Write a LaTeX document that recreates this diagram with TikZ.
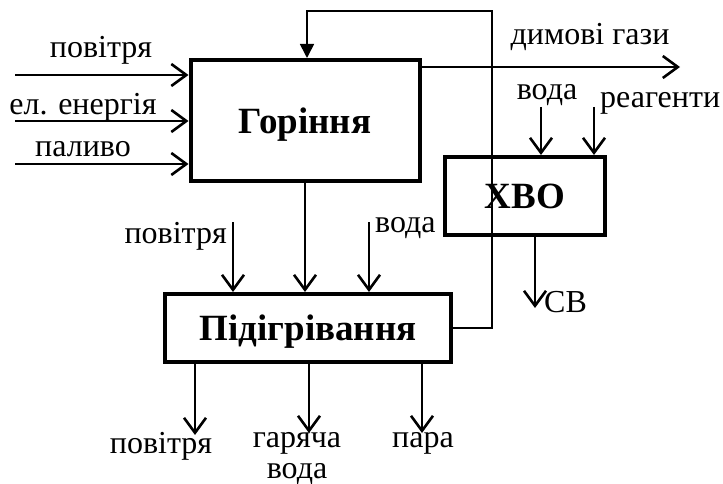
\documentclass[tikz,border=0pt]{standalone}
\usepackage{fontspec}
\setmainfont{Liberation Serif}
\usetikzlibrary{arrows.meta,shadows}

\begin{document}
\begin{tikzpicture}[x=1pt, y=-1pt,
    block/.style={draw, line width=4pt, fill=white, inner sep=0pt, text depth=0pt,
        font=\fontsize{37}{40}\selectfont\bfseries,
        drop shadow={opacity=.25, shadow xshift=2pt, shadow yshift=-2pt}},
    lbl/.style={font=\fontsize{32}{34}\selectfont, inner sep=0pt},
    flow/.style={line width=2.6pt, -{Straight Barb[length=15pt, width=22pt]}},
    backline/.style={line width=1.6pt, -{Triangle[length=14pt, width=14pt]}}]
    \useasboundingbox (0,0) rectangle (723,484);

    % blocks
    \node[block, minimum width=229pt, minimum height=121pt] (gorinnia) at (305,120.5) {Горіння};
    \node[block, minimum width=286pt, minimum height=68pt] (pidigriv) at (308,328) {Підігрівання};
    \node[block, minimum width=160pt, minimum height=78pt] (xvo) at (525,196) {ХВО};

    % free ends
    \coordinate (inAir) at (15,75);
    \coordinate (inPower) at (15,121);
    \coordinate (inFuel) at (15,164);
    \coordinate (flueGas) at (680,67);
    \coordinate (inWaterX) at (541,107);
    \coordinate (inReag) at (594,107);
    \coordinate (outCv) at (535,308);
    \coordinate (inAirP) at (233,222);
    \coordinate (inWaterP) at (369,222);
    \coordinate (outAir) at (195,435);
    \coordinate (outHot) at (309,433);
    \coordinate (outSteam) at (422,433);
    \coordinate (fbTop) at (492,11);

    % inputs of combustion
    \draw[flow] (inAir) -- (inAir -| gorinnia.west);
    \draw[flow] (inPower) -- (inPower -| gorinnia.west);
    \draw[flow] (inFuel) -- (inFuel -| gorinnia.west);
    \draw[flow] (gorinnia.east |- flueGas) -- (flueGas);

    % water treatment
    \draw[flow] (inWaterX) -- (inWaterX |- xvo.north);
    \draw[flow] (inReag) -- (inReag |- xvo.north);
    \draw[flow] (outCv |- xvo.south) -- (outCv);

    % heating
    \draw[flow] (gorinnia.south) -- (gorinnia.south |- pidigriv.north);
    \draw[flow] (inAirP) -- (inAirP |- pidigriv.north);
    \draw[flow] (inWaterP) -- (inWaterP |- pidigriv.north);
    \draw[flow] (outAir |- pidigriv.south) -- (outAir);
    \draw[flow] (outHot |- pidigriv.south) -- (outHot);
    \draw[flow] (outSteam |- pidigriv.south) -- (outSteam);

    % feedback
    \draw[backline] (pidigriv.east) -| (fbTop) -| ([xshift=2pt]gorinnia.north);

    % labels
    \node[lbl, anchor=base] (lAir) at (101,58) {повітря};
    \node[lbl, anchor=base] (lPower) at (83,115) {ел. енергія};
    \node[lbl, anchor=base] (lFuel) at (83,157) {паливо};
    \node[lbl, anchor=base] (lFlue) at (590,45) {димові гази};
    \node[lbl, anchor=base] (lWaterX) at (547,100) {вода};
    \node[lbl, anchor=base west] (lReag) at (600,108) {реагенти};
    \node[lbl, anchor=base west] (lCv) at (544,312) {СВ};
    \node[lbl, anchor=base east] (lAirP) at (227,243) {повітря};
    \node[lbl, anchor=base west] (lWaterP) at (375,232) {вода};
    \node[lbl, anchor=base] (lOutAir) at (161,453) {повітря};
    \node[lbl, anchor=base, text depth=0pt] (lOutHot) at (297,447) {гаряча};
    \node[lbl, anchor=base, text height=15pt] (lOutHot2) at (297,478) {вода};
    \node[lbl, anchor=base] (lOutSteam) at (423,447) {пара};
\end{tikzpicture}
\end{document}
